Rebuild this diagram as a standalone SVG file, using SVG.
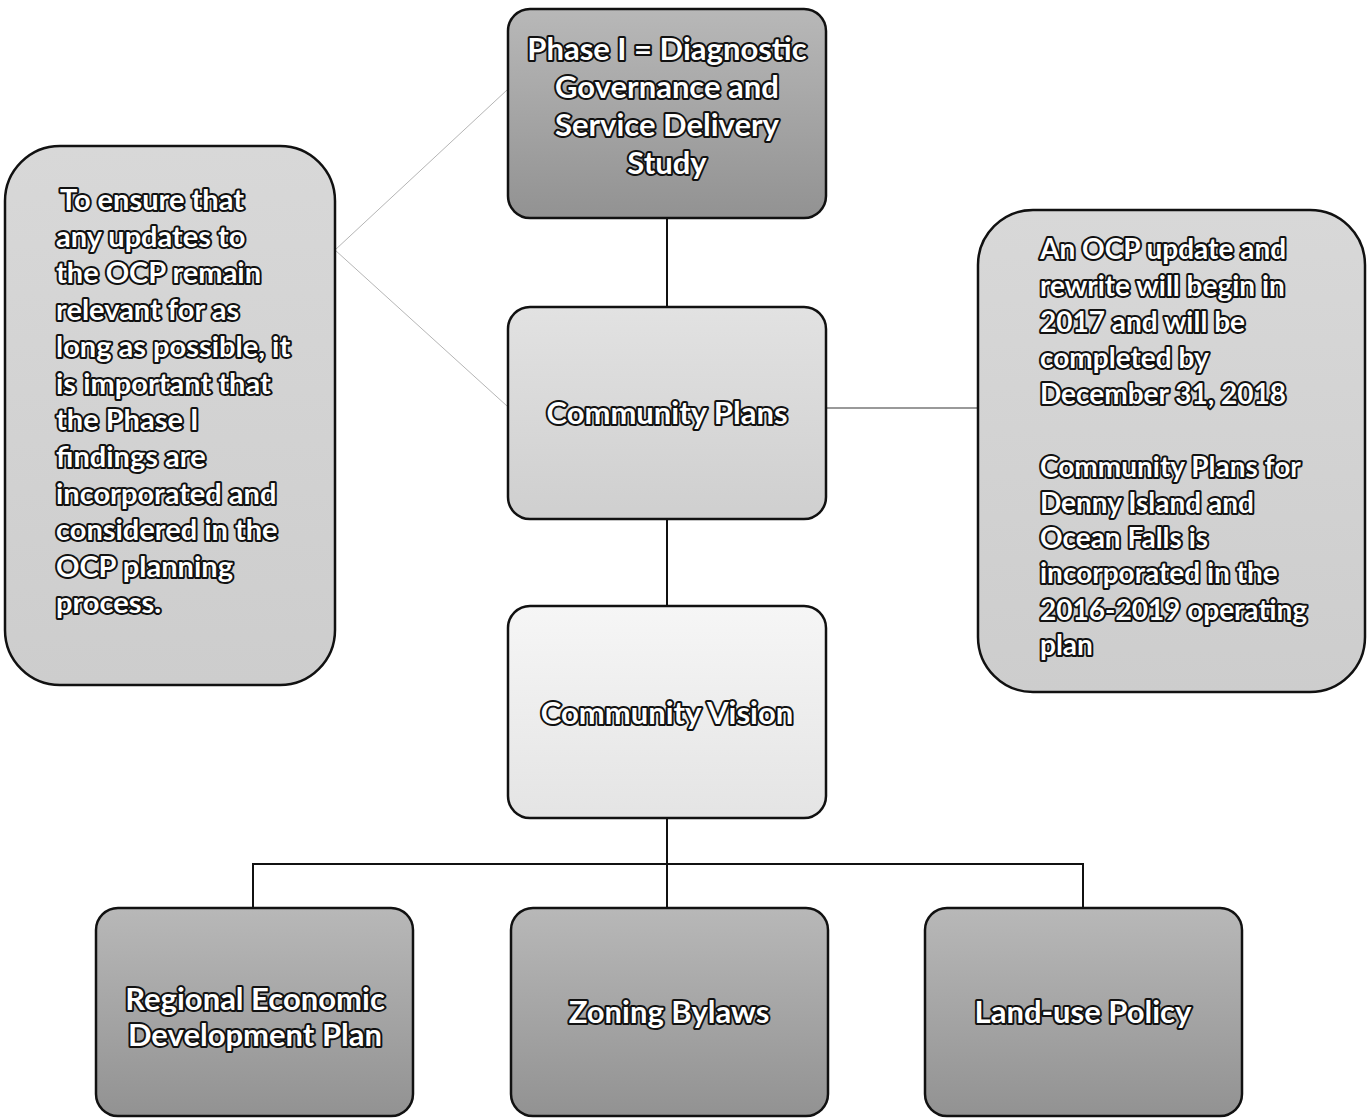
<svg xmlns="http://www.w3.org/2000/svg" width="1369" height="1119" viewBox="0 0 1369 1119">
<defs>
<linearGradient id="gDark" x1="0" y1="0" x2="0" y2="1">
<stop offset="0" stop-color="#b8b8b8"/>
<stop offset="1" stop-color="#929292"/>
</linearGradient>
<linearGradient id="gPlans" x1="0" y1="0" x2="0" y2="1">
<stop offset="0" stop-color="#e2e2e2"/>
<stop offset="1" stop-color="#cfcfcf"/>
</linearGradient>
<linearGradient id="gVision" x1="0" y1="0" x2="0" y2="1">
<stop offset="0" stop-color="#f6f6f6"/>
<stop offset="1" stop-color="#e4e4e4"/>
</linearGradient>
<linearGradient id="gNote" x1="0" y1="0" x2="0" y2="1">
<stop offset="0" stop-color="#d8d8d8"/>
<stop offset="1" stop-color="#cdcdcd"/>
</linearGradient>
</defs>
<style>
.box{stroke:#111;stroke-width:2.5}
.t{font-family:Lato,"Liberation Sans",sans-serif;font-weight:700;fill:#fff;stroke:#111;stroke-width:4;stroke-linejoin:round;paint-order:stroke}
.c{text-anchor:middle}
.big{font-size:31px}
.note{font-size:28px}
.conn{stroke:#111;stroke-width:2;fill:none}
.faint{stroke:#b5b5b5;stroke-width:1;fill:none}
</style>
<rect width="1369" height="1119" fill="#fff"/>
<g id="connectors">
<line class="conn" x1="667" y1="218" x2="667" y2="307"/>
<line class="conn" x1="667" y1="519" x2="667" y2="606"/>
<line class="conn" x1="667" y1="818" x2="667" y2="907"/>
<polyline class="conn" points="253,907 253,864 1083,864 1083,907"/>
<line class="faint" x1="335" y1="250" x2="507" y2="90"/>
<line class="faint" x1="335" y1="250" x2="507" y2="406"/>
<line stroke="#777" stroke-width="1.3" x1="826" y1="408" x2="978" y2="408"/>
</g>
<g id="phase1">
<rect class="box" x="508" y="9" width="318" height="209" rx="22" fill="url(#gDark)"/>
<text class="t c big" x="667"><tspan x="667" y="60">Phase I = Diagnostic</tspan><tspan x="667" y="98">Governance and</tspan><tspan x="667" y="136">Service Delivery</tspan><tspan x="667" y="174">Study</tspan></text>
</g>
<g id="plans">
<rect class="box" x="508" y="307" width="318" height="212" rx="22" fill="url(#gPlans)"/>
<text class="t c big" x="667" y="424">Community Plans</text>
</g>
<g id="vision">
<rect class="box" x="508" y="606" width="318" height="212" rx="22" fill="url(#gVision)"/>
<text class="t c big" x="667" y="724">Community Vision</text>
</g>
<g id="note-left">
<rect class="box" x="5" y="146" width="330" height="539" rx="55" fill="url(#gNote)"/>
<text class="t note" style="font-size:29px"><tspan x="60" y="210">To ensure that</tspan><tspan x="56" y="247">any updates to</tspan><tspan x="56" y="283">the OCP remain</tspan><tspan x="56" y="320">relevant for as</tspan><tspan x="56" y="357">long as possible, it</tspan><tspan x="56" y="394">is important that</tspan><tspan x="56" y="430">the Phase I</tspan><tspan x="56" y="467">findings are</tspan><tspan x="56" y="504">incorporated and</tspan><tspan x="56" y="540">considered in the</tspan><tspan x="56" y="577">OCP planning</tspan><tspan x="56" y="613">process.</tspan></text>
</g>
<g id="note-right">
<rect class="box" x="978" y="210" width="387" height="482" rx="55" fill="url(#gNote)"/>
<text class="t note"><tspan x="1040" y="259">An OCP update and</tspan><tspan x="1040" y="296">rewrite will begin in</tspan><tspan x="1040" y="332">2017 and will be</tspan><tspan x="1040" y="368">completed by</tspan><tspan x="1040" y="404">December 31, 2018</tspan><tspan x="1040" y="477">Community Plans for</tspan><tspan x="1040" y="513">Denny Island and</tspan><tspan x="1040" y="548">Ocean Falls is</tspan><tspan x="1040" y="583">incorporated in the</tspan><tspan x="1040" y="620">2016-2019 operating</tspan><tspan x="1040" y="655">plan</tspan></text>
</g>
<g id="regional">
<rect class="box" x="96" y="908" width="317" height="208" rx="22" fill="url(#gDark)"/>
<text class="t c big"><tspan x="255" y="1010">Regional Economic</tspan><tspan x="255" y="1046">Development Plan</tspan></text>
</g>
<g id="zoning">
<rect class="box" x="511" y="908" width="317" height="208" rx="22" fill="url(#gDark)"/>
<text class="t c big" x="669" y="1023">Zoning Bylaws</text>
</g>
<g id="landuse">
<rect class="box" x="925" y="908" width="317" height="208" rx="22" fill="url(#gDark)"/>
<text class="t c big" x="1083" y="1023">Land-use Policy</text>
</g>
</svg>
